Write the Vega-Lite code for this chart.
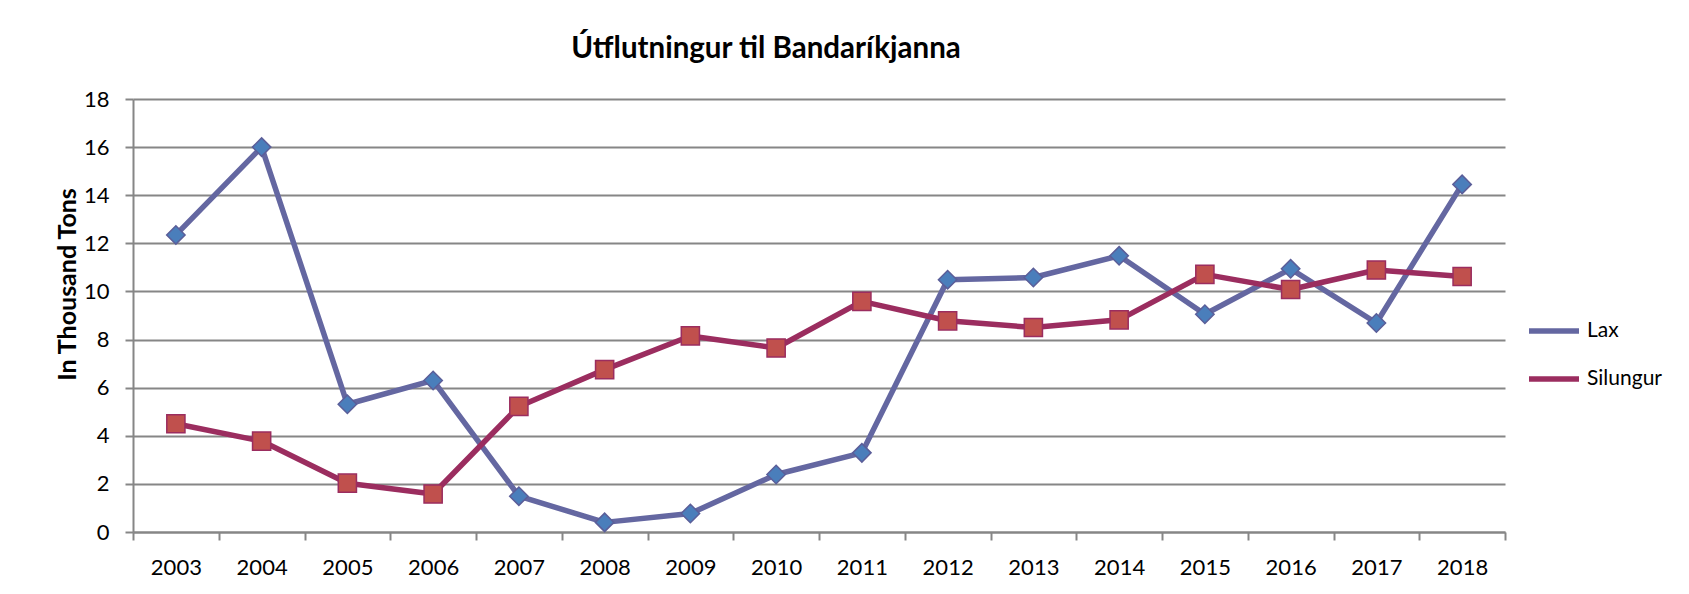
{
  "$schema": "https://vega.github.io/schema/vega-lite/v6.json",
  "autosize": "none",
  "width": 1372,
  "height": 433,
  "padding": {"left": 133, "top": 99, "right": 184, "bottom": 62},
  "background": "white",
  "config": {"font": "Lato", "view": {"stroke": null}},
  "title": {
    "text": "Útflutningur til Bandaríkjanna",
    "font": "Lato",
    "fontSize": 29.5,
    "fontWeight": "bold",
    "color": "black",
    "anchor": "middle",
    "frame": "group",
    "dx": -53,
    "baseline": "alphabetic",
    "offset": 1
  },
  "data": {
    "values": [
      {"year": "2003", "series": "Lax", "value": 12.35},
      {"year": "2004", "series": "Lax", "value": 16.0},
      {"year": "2005", "series": "Lax", "value": 5.31},
      {"year": "2006", "series": "Lax", "value": 6.3},
      {"year": "2007", "series": "Lax", "value": 1.49},
      {"year": "2008", "series": "Lax", "value": 0.4},
      {"year": "2009", "series": "Lax", "value": 0.77},
      {"year": "2010", "series": "Lax", "value": 2.39},
      {"year": "2011", "series": "Lax", "value": 3.29},
      {"year": "2012", "series": "Lax", "value": 10.49},
      {"year": "2013", "series": "Lax", "value": 10.58},
      {"year": "2014", "series": "Lax", "value": 11.48},
      {"year": "2015", "series": "Lax", "value": 9.05},
      {"year": "2016", "series": "Lax", "value": 10.94},
      {"year": "2017", "series": "Lax", "value": 8.69},
      {"year": "2018", "series": "Lax", "value": 14.45},
      {"year": "2003", "series": "Silungur", "value": 4.5},
      {"year": "2004", "series": "Silungur", "value": 3.78},
      {"year": "2005", "series": "Silungur", "value": 2.03},
      {"year": "2006", "series": "Silungur", "value": 1.58},
      {"year": "2007", "series": "Silungur", "value": 5.22},
      {"year": "2008", "series": "Silungur", "value": 6.75},
      {"year": "2009", "series": "Silungur", "value": 8.15},
      {"year": "2010", "series": "Silungur", "value": 7.65},
      {"year": "2011", "series": "Silungur", "value": 9.59},
      {"year": "2012", "series": "Silungur", "value": 8.78},
      {"year": "2013", "series": "Silungur", "value": 8.5},
      {"year": "2014", "series": "Silungur", "value": 8.82},
      {"year": "2015", "series": "Silungur", "value": 10.71},
      {"year": "2016", "series": "Silungur", "value": 10.08},
      {"year": "2017", "series": "Silungur", "value": 10.89},
      {"year": "2018", "series": "Silungur", "value": 10.62}
    ]
  },
  "encoding": {
    "x": {
      "field": "year",
      "type": "ordinal",
      "scale": {"type": "band", "paddingInner": 0, "paddingOuter": 0},
      "axis": {
        "title": null,
        "tickBand": "extent",
        "labelAngle": 0,
        "labelFont": "Lato",
        "labelFontSize": 22,
        "labelColor": "black",
        "labelPadding": 17,
        "tickSize": 8,
        "tickColor": "#868686",
        "tickWidth": 2,
        "domainColor": "#868686",
        "domainWidth": 2,
        "grid": false
      }
    },
    "y": {
      "field": "value",
      "type": "quantitative",
      "scale": {"domain": [0, 18], "nice": false},
      "axis": {
        "title": "In Thousand Tons",
        "titleFont": "Lato",
        "titleFontSize": 25,
        "titleFontWeight": "bold",
        "titleColor": "black",
        "titleAngle": -90,
        "titleAlign": "center",
        "titleBaseline": "middle",
        "titleX": -66,
        "titleY": 185,
        "values": [0, 2, 4, 6, 8, 10, 12, 14, 16, 18],
        "labelFont": "Lato",
        "labelFontSize": 22,
        "labelColor": "black",
        "labelPadding": 16,
        "tickSize": 8,
        "tickColor": "#868686",
        "tickWidth": 2,
        "domainColor": "#868686",
        "domainWidth": 2,
        "grid": true,
        "gridColor": "#868686",
        "gridWidth": 2
      }
    }
  },
  "layer": [
    {
      "mark": {"type": "line", "strokeWidth": 5.5, "strokeJoin": "round"},
      "encoding": {
        "color": {
          "field": "series",
          "type": "nominal",
          "scale": {"domain": ["Lax", "Silungur"], "range": ["#6467A1", "#9B2D5F"]},
          "legend": {
            "orient": "none",
            "legendX": 1393,
            "legendY": 222,
            "title": null,
            "padding": 0,
            "labelFont": "Lato",
            "labelFontSize": 21,
            "labelColor": "black",
            "labelOffset": 5,
            "symbolSize": 2500,
            "symbolStrokeWidth": 5.5,
            "clipHeight": 20,
            "rowPadding": 27,
            "symbolType": "stroke"
          }
        }
      }
    },
    {
      "transform": [{"filter": "datum.series === 'Lax'"}],
      "mark": {"type": "point", "filled": true, "opacity": 1, "size": 340, "shape": "diamond", "fill": "#4A7EBB", "stroke": "#5B5E99", "strokeWidth": 1.5}
    },
    {
      "transform": [{"filter": "datum.series === 'Silungur'"}],
      "mark": {"type": "point", "filled": true, "opacity": 1, "size": 330, "shape": "square", "fill": "#C0504D", "stroke": "#9B2D5F", "strokeWidth": 1.5}
    }
  ]
}
